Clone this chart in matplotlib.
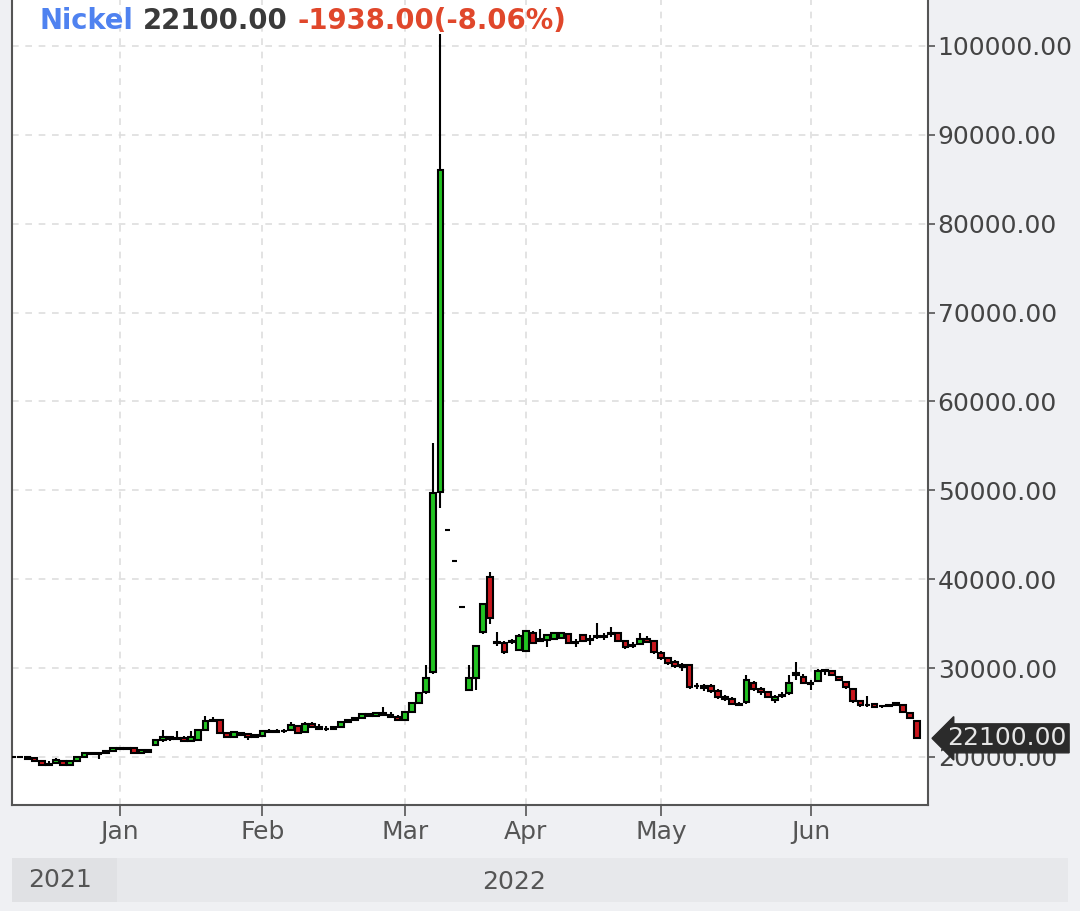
import matplotlib
matplotlib.use("Agg")
import matplotlib.pyplot as plt
from matplotlib.patches import Rectangle
import numpy as np

# ---------------- data ----------------
opens = [20050, 20000, 19950, 19850, 19500, 19150, 19300, 19600, 19150, 19600,
         20000, 20450, 20300, 20400, 20700,
         21000, 20900, 21000, 20450, 20800, 21350, 21900, 22200, 22000, 22150,
         21800, 21950, 23000, 24100, 24150, 22700, 22300, 22700, 22550, 22300,
         22350, 22900, 22850, 22950, 23050, 23450, 22800, 23700, 23400, 23100,
         23200, 23400, 23900, 24200, 24400, 24800, 24600, 24900, 24700, 24500,
         24200, 25050, 26100, 27300, 29600, 49800, 45500, 42000, 36900, 27500,
         28900, 34100, 40250, 32900, 32800, 32900, 32000,
         31900, 34000, 33100, 33200, 33300, 33400, 33800, 32900, 33700, 33200,
         33500, 33500, 33800, 34000, 33100, 32500, 32700, 33300, 33000,
         31700, 31100, 30700, 30100, 30350, 28000, 28000, 28000, 27400, 26700,
         26500, 26000, 26200, 28300, 27600, 27300, 26400, 26900, 27200, 29500,
         29000,
         28300, 28600, 29700, 29700, 29000, 28400, 27600, 26300, 25900, 26000,
         25700, 25700, 25800, 25900, 24900, 24050]
highs = [20150, 20100, 20050, 19950, 19600, 19500, 19900, 19650, 19650, 20050,
         20500, 20600, 20500, 20750, 21050,
         21150, 21100, 21050, 20850, 20950, 21950, 23000, 22400, 22900, 22400,
         22900, 23100, 24600, 24500, 24200, 22800, 22900, 22850, 22650, 22600,
         22950, 23100, 23100, 23100, 23900, 23550, 23900, 23950, 23700, 23500,
         23500, 23950, 24300, 24500, 25000, 25000, 25000, 25600, 25100, 24700,
         25100, 26200, 27300, 30350, 55300, 101300, 45500, 42000, 36900, 30400,
         32600, 37300, 40800, 34100, 33000, 33300, 33800,
         34300, 34200, 34400, 33800, 34000, 34000, 33900, 33300, 33800, 33700,
         35100, 33900, 34600, 34100, 33200, 32900, 34000, 33600, 33100,
         31900, 31300, 30900, 30600, 30400, 28300, 28200, 28200, 27600, 27000,
         26700, 26200, 29200, 28500, 27900, 27400, 27000, 27300, 29200, 30700,
         29300,
         28700, 29900, 29900, 29800, 29100, 28500, 27700, 26400, 26900, 26100,
         25900, 26000, 26100, 26000, 25000, 24100]
lows = [19950, 19900, 19750, 19450, 19100, 19050, 19200, 19050, 19100, 19550,
        19950, 20250, 19800, 20350, 20650,
        20800, 20750, 20400, 20400, 20500, 21300, 21700, 21800, 21900, 21700,
        21750, 21900, 22900, 23900, 22600, 22200, 22250, 22400, 21950, 22250,
        22300, 22750, 22700, 22750, 23000, 22600, 22700, 23300, 23000, 22950,
        23000, 23350, 23800, 24100, 24300, 24500, 24500, 24600, 24400, 24100,
        24100, 25000, 26000, 27100, 29300, 48000, 45500, 42000, 36900, 27400,
        27500, 33800, 35000, 32500, 31600, 32700, 31900,
        31800, 32700, 32900, 32400, 33200, 33300, 32700, 32400, 32900, 32600,
        33300, 33200, 33500, 33000, 32200, 32300, 32600, 32800, 31600,
        30900, 30400, 30000, 29700, 27700, 27600, 27400, 27200, 26500, 26300,
        25800, 25800, 26000, 27400, 27000, 26600, 26100, 26600, 27000, 28700,
        28200,
        27500, 28400, 29200, 29100, 28600, 27700, 26100, 25600, 25600, 25500,
        25500, 25600, 25700, 25000, 24300, 22000]
closes = [20000, 19950, 19800, 19500, 19150, 19250, 19650, 19100, 19600, 20000,
          20450, 20300, 20400, 20700, 21000,
          20900, 21050, 20450, 20800, 20600, 21900, 22200, 22000, 22150, 21800,
          22200, 23000, 24000, 24150, 22700, 22300, 22800, 22500, 22300, 22500,
          22900, 22850, 22950, 22900, 23600, 22700, 23700, 23400, 23100, 23200,
          23400, 23900, 24200, 24350, 24800, 24600, 24900, 24700, 24500, 24200,
          25050, 26100, 27200, 28900, 49700, 86000, 45500, 42000, 36900, 28900,
          32500, 37200, 35600, 32800, 31800, 33000, 33600,
          34200, 32800, 33300, 33700, 33900, 33900, 32800, 32800, 33100, 33300,
          33600, 33600, 33900, 33100, 32400, 32600, 33300, 32900, 31800,
          31100, 30600, 30200, 30300, 27900, 28000, 27800, 27400, 26700, 26500,
          26000, 25900, 28700, 27600, 27300, 26800, 26800, 27000, 28300, 29200,
          28300,
          28200, 29700, 29800, 29200, 28700, 27900, 26300, 25800, 25800, 25600,
          25750, 25900, 26050, 25100, 24400, 22100]

month_labels = ["Jan", "Feb", "Mar", "Apr", "May", "Jun"]
month_start_idx = [15, 35, 55, 72, 91, 112]   # first trading day of each month
y_ticks = [20000, 30000, 40000, 50000, 60000, 70000, 80000, 90000, 100000]
symbol = "Nickel"
last_price = 22100.00
change = -1938.00
change_pct = -8.06
year_labels = ["2021", "2022"]

# ---------------- figure ----------------
W, H = 1080, 911
fig = plt.figure(figsize=(W / 100, H / 100), dpi=100)
bg = "#eff0f3"
fig.patch.set_facecolor(bg)

ax = fig.add_axes([12 / W, 1 - 805 / H, (928 - 12) / W, 805 / H])
ax.set_facecolor("white")

x = np.arange(len(opens))
o = np.array(opens, float)
h = np.array(highs, float)
l = np.array(lows, float)
c = np.array(closes, float)

up = c >= o
green = "#22c322"
red = "#c8161d"
colors = np.where(up, green, red)

ax.vlines(x, l, h, color="black", linewidth=1.5, zorder=2)
ax.bar(x, np.abs(c - o), bottom=np.minimum(o, c), width=0.8,
       color=colors, edgecolor="black", linewidth=1.5, zorder=3)

ax.set_xlim(-0.17, 128.5)
ax.set_ylim(14600, 105160)

# grid
ax.set_xticks(month_start_idx)
ax.set_xticklabels(month_labels)
ax.set_yticks(y_ticks)
ax.set_yticklabels([f"{v:.2f}" for v in y_ticks])
ax.grid(True, color="#dedede", linestyle=(0, (4, 4)), linewidth=1.2, zorder=0)
ax.set_axisbelow(True)

ax.yaxis.tick_right()
ax.tick_params(axis="y", which="both", length=5, width=1.2, color="#555555",
               labelsize=18, labelcolor="#444444", pad=2)
ax.tick_params(axis="x", which="both", length=8, width=1.2, color="#555555",
               labelsize=18, labelcolor="#555555", pad=3)
for s in ["left", "bottom", "right"]:
    ax.spines[s].set_color("#555555")
    ax.spines[s].set_linewidth(1.5)
ax.spines["top"].set_visible(False)

# price tag
ax.text(1.021, last_price, f"{last_price:.2f}",
        transform=ax.get_yaxis_transform(), fontsize=18, color="#e6e6e6",
        va="center", ha="left", clip_on=False, zorder=10,
        bbox=dict(boxstyle="larrow,pad=0.1", fc="#2b2b2b", ec="#2b2b2b"))

# bottom year band
fig.patches.append(Rectangle((12 / W, 1 - 902 / H), (1068 - 12) / W, 44 / H,
                             transform=fig.transFigure, facecolor="#e7e8eb",
                             edgecolor="none", zorder=0))
fig.patches.append(Rectangle((12 / W, 1 - 902 / H), (117 - 12) / W, 44 / H,
                             transform=fig.transFigure, facecolor="#e0e1e4",
                             edgecolor="none", zorder=0))
fig.text(60 / W, 1 - 880 / H, year_labels[0], fontsize=18, color="#555555",
         ha="center", va="center")
fig.text(514 / W, 1 - 882 / H, year_labels[1], fontsize=18, color="#555555",
         ha="center", va="center")

# title pieces
pieces = [(symbol, "#4f82f0"),
          (f"{last_price:.2f}", "#3a3a3a"),
          (f"{change:.2f}({change_pct:.2f}%)", "#e0472b")]
fig.canvas.draw()
renderer = fig.canvas.get_renderer()
xpos = 40
for txt, col in pieces:
    t = fig.text(xpos / W, 1 - 29 / H, txt, fontsize=19.8, fontweight="bold",
                 color=col, ha="left", va="baseline")
    bb = t.get_window_extent(renderer=renderer)
    xpos += bb.width + 9.5

fig.savefig("out.png", dpi=100, facecolor=bg)
